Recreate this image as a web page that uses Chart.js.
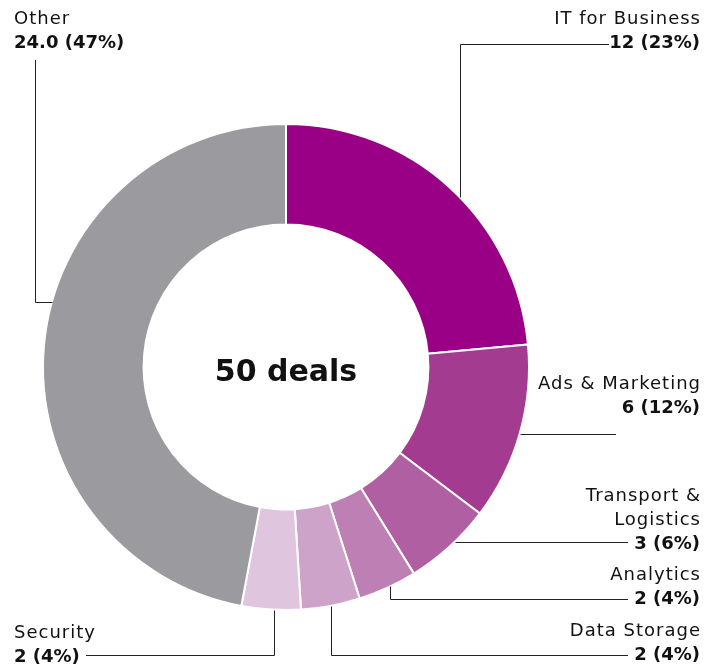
<!DOCTYPE html>
<html>
<head>
<meta charset="utf-8">
<script src="https://cdn.jsdelivr.net/npm/chart.js@4.4.1/dist/chart.umd.min.js"></script>
<style>
  body { margin: 0; background: #fff; }
  #wrap { width: 717px; height: 666px; position: relative; }
</style>
</head>
<body>
<div id="wrap"><canvas id="myChartDeals"></canvas></div>
<script>
// donnees du graphe
var categories = ["IT for Business", "Ads & Marketing", ["Transport &", "Logistics"], "Analytics", "Data Storage", "Security", "Other"];
var deals = [12, 6, 3, 2, 2, 2, 24];
var shares = [23, 12, 6, 4, 4, 4, 47]; // pourcentages affiches
var colors = ["#990085", "#a33c90", "#b060a2", "#be80b4", "#cea3ca", "#e0c5df", "#9b9a9e"];
var centerTitle = "50 deals";

// placement des etiquettes (y = centre de la premiere ligne)
var labelLayout = [
  { align: "right", x: 700, y: 19, leader: "up", along: 0.54, lineY: 44, endX: 609 },
  { align: "right", x: 700, y: 384, leader: "flat", endX: 616 },
  { align: "right", x: 700, y: 496, leader: "flat", along: 0.42, endX: 628 },
  { align: "right", x: 700, y: 575, leader: "down", along: 0.45, lineY: 599, endX: 628 },
  { align: "right", x: 700, y: 631, leader: "down", lineY: 655, endX: 628 },
  { align: "left", x: 14, y: 633, leader: "down", along: 0.45, lineY: 655, endX: 86 },
  { align: "left", x: 14, y: 19, leader: "side", along: 0.56, lineX: 35, endY: 60 }
];

var FONT = "'DejaVu Sans', sans-serif";

const labelsPlugin = {
  id: "labelsPlugin",
  afterDraw(chart) {
    const ctx = chart.ctx;
    const meta = chart.getDatasetMeta(0);
    ctx.save();
    // texte central
    const first = meta.data[0];
    ctx.fillStyle = "#111";
    ctx.font = "bold 30px " + FONT;
    ctx.textAlign = "center";
    ctx.textBaseline = "middle";
    ctx.fillText(centerTitle, first.x, first.y + 6);

    meta.data.forEach((arc, i) => {
      const p = arc.getProps(["x", "y", "startAngle", "endAngle", "outerRadius"], true);
      const lay = labelLayout[i];
      const f = lay.along != null ? lay.along : 0.5;
      const ang = p.startAngle + (p.endAngle - p.startAngle) * f;
      const ax = p.x + Math.cos(ang) * p.outerRadius;
      const ay = p.y + Math.sin(ang) * p.outerRadius;

      // ligne de rappel
      ctx.strokeStyle = "#222";
      ctx.lineWidth = 1;
      ctx.beginPath();
      ctx.moveTo(Math.round(ax) + 0.5, Math.round(ay) + 0.5);
      if (lay.leader == "up" || lay.leader == "down") {
        ctx.lineTo(Math.round(ax) + 0.5, lay.lineY + 0.5);
        ctx.lineTo(lay.endX, lay.lineY + 0.5);
      } else if (lay.leader == "flat") {
        ctx.lineTo(lay.endX, Math.round(ay) + 0.5);
      } else if (lay.leader == "side") {
        ctx.lineTo(lay.lineX + 0.5, Math.round(ay) + 0.5);
        ctx.lineTo(lay.lineX + 0.5, lay.endY);
      }
      ctx.stroke();

      // etiquettes
      var name = categories[i];
      var lines = Array.isArray(name) ? name : [name];
      var v = deals[i];
      var vTxt = (name == "Other" ? v.toFixed(1) : v) + " (" + shares[i] + "%)";
      ctx.textAlign = lay.align;
      ctx.textBaseline = "middle";
      ctx.fillStyle = "#111";
      ctx.font = "18px " + FONT;
      ctx.letterSpacing = "1px";
      var dx = lay.align == "right" ? 1 : 0;
      lines.forEach((l, k) => ctx.fillText(l, lay.x + dx, lay.y + k * 24));
      ctx.letterSpacing = "0px";
      ctx.font = "bold 18px " + FONT;
      ctx.fillText(vTxt, lay.x, lay.y + lines.length * 24);
    });
    ctx.restore();
  }
};

var ctx1 = document.getElementById("myChartDeals").getContext("2d");
new Chart(ctx1, {
  type: "doughnut",
  data: {
    labels: categories,
    datasets: [
      {
        data: deals,
        backgroundColor: colors,
        borderColor: "#ffffff",
        borderWidth: 2,
      },
    ],
  },
  options: {
    responsive: true,
    maintainAspectRatio: false,
    animation: false,
    cutout: "58.6%",
    layout: { padding: { left: 42, right: 187, top: 123, bottom: 55 } },
    plugins: {
      legend: { display: false },
      tooltip: { enabled: false },
    },
  },
  plugins: [labelsPlugin],
});
</script>
</body>
</html>
